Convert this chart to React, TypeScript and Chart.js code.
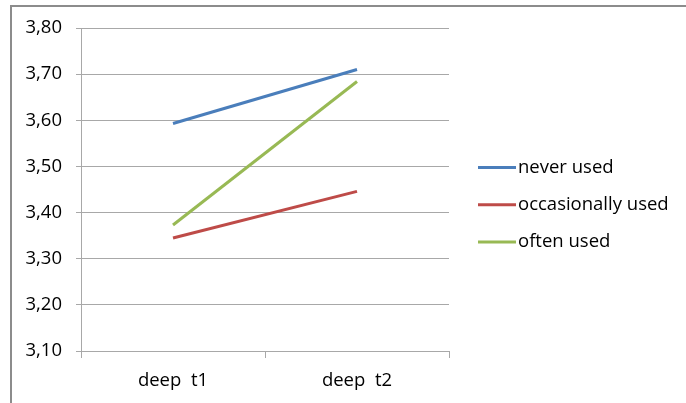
import React, { useEffect, useRef } from "react";
import { Chart, registerables } from "chart.js";

Chart.register(...registerables);

const categories = ["deep  t1", "deep  t2"];
const neverUsed = [3.593, 3.71];
const occasionallyUsed = [3.345, 3.446];
const oftenUsed = [3.373, 3.684];
const seriesNames = ["never used", "occasionally used", "often used"];
const seriesColors = ["#4A7EBB", "#BE4B48", "#98B954"];

const FONT = "'Open Sans', Lato, sans-serif";
const FONT_SIZE = 18.5;
const GRID = "#a8a8a8";

// Outer frame and a right-hand legend with short line samples
const framePlugin = {
  id: "frameAndLegend",
  afterDraw(chart: any) {
    const ctx = chart.ctx;
    ctx.save();
    ctx.strokeStyle = "#8c8c8c";
    ctx.lineWidth = 2;
    ctx.beginPath();
    ctx.moveTo(11, 403);
    ctx.lineTo(11, 6);
    ctx.lineTo(686, 6);
    ctx.stroke();

    const x0 = 478;
    const yStart = 167.5;
    const step = 37.3;
    ctx.font = `${FONT_SIZE}px ${FONT}`;
    ctx.textBaseline = "middle";
    ctx.textAlign = "left";
    chart.data.datasets.forEach((ds: any, i: number) => {
      const y = yStart + i * step;
      ctx.strokeStyle = ds.borderColor;
      ctx.lineWidth = 3;
      ctx.beginPath();
      ctx.moveTo(x0, y);
      ctx.lineTo(x0 + 38, y);
      ctx.stroke();
      ctx.fillStyle = "#000";
      ctx.fillText(ds.label, x0 + 40, y);
    });
    ctx.restore();
  },
};

export default function App() {
  const ref = useRef<HTMLCanvasElement | null>(null);

  useEffect(() => {
    if (!ref.current) return;
    const seriesData = [neverUsed, occasionallyUsed, oftenUsed];
    const chart = new Chart(ref.current, {
      type: "line",
      data: {
        labels: categories,
        datasets: seriesData.map((d, i) => ({
          label: seriesNames[i],
          data: d,
          borderColor: seriesColors[i],
          backgroundColor: seriesColors[i],
          borderWidth: 3,
          pointRadius: 0,
          tension: 0,
        })),
      },
      options: {
        animation: false,
        responsive: false,
        layout: { padding: { left: 12, top: 28, right: 237, bottom: 0 } },
        plugins: {
          legend: { display: false },
          tooltip: { enabled: false },
        },
        scales: {
          x: {
            offset: true,
            grid: {
              offset: true,
              drawOnChartArea: false,
              color: GRID,
              tickLength: 7,
            },
            border: { color: GRID },
            ticks: {
              color: "#000",
              font: { family: FONT, size: FONT_SIZE },
              padding: 12,
            },
            afterFit: (s: any) => {
              s.height = 52;
            },
          },
          y: {
            min: 3.1,
            max: 3.8,
            ticks: {
              stepSize: 0.1,
              color: "#000",
              font: { family: FONT, size: FONT_SIZE },
              padding: 14,
              callback: (v: any) => Number(v).toFixed(2).replace(".", ","),
            },
            grid: { color: GRID, tickLength: 5 },
            border: { color: GRID },
            afterFit: (s: any) => {
              s.width = 69;
            },
          },
        },
      },
      plugins: [framePlugin],
    });
    return () => chart.destroy();
  }, []);

  return (
    <div style={{ position: "fixed", left: 0, top: 0, width: 686, height: 403, background: "#fff" }}>
      <canvas ref={ref} width={686} height={403} style={{ display: "block" }} />
    </div>
  );
}
